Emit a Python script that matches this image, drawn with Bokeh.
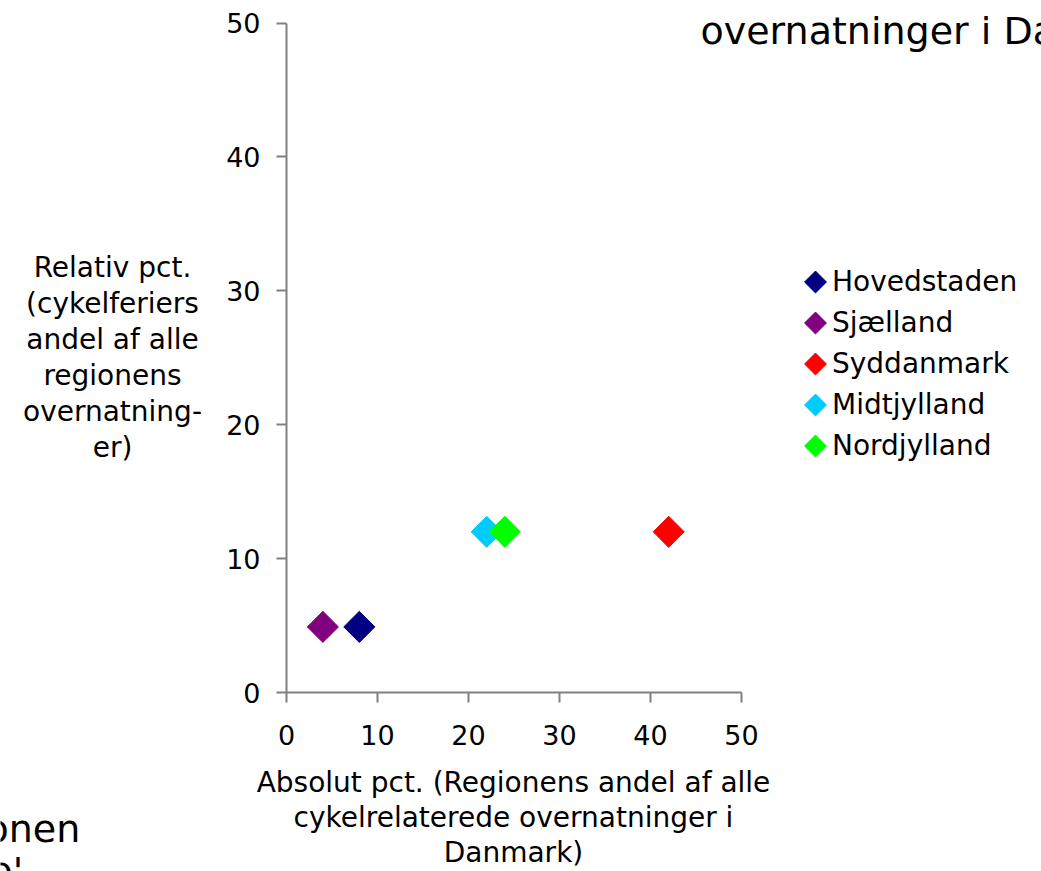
from bokeh.plotting import figure
from bokeh.models import Range1d, FixedTicker, Label, Legend, LegendItem, ColumnDataSource
from bokeh.embed import file_html
from bokeh.resources import INLINE
import math

# ---- data ----
regions = ["Hovedstaden", "Sjælland", "Syddanmark", "Midtjylland", "Nordjylland"]
absolut_pct = [8, 4, 42, 22, 24]
relativ_pct = [4.9, 4.9, 12, 12, 12]
colors = ["#000080", "#800080", "#FF0000", "#00CCFF", "#00FF00"]
ticks = [0, 10, 20, 30, 40, 50]

title_text = "overnatninger i Danmark"
x_label = "Absolut pct. (Regionens andel af alle\ncykelrelaterede overnatninger i\nDanmark)"
y_label = "Relativ pct.\n(cykelferiers\nandel af alle\nregionens\novernatning-\ner)"
fragment_1 = "onen"
fragment_2 = "o'"

FONT = "DejaVu Sans"
EM = 1.164  # DejaVu ascent + descent

# ---- geometry (canvas pixels) ----
W, H = 1041, 871
X0, X50 = 286, 741      # pixel of x=0 and x=50
Y0, Y50 = 692, 22.5     # pixel of y=0 and y=50
ux = (X50 - X0) / 50.0
uy = (Y0 - Y50) / 50.0


def dx(px):
    return (px - X0) / ux


def dy(py):
    return (Y0 - py) / uy


p = figure(width=W, height=H, output_backend="svg", toolbar_location=None,
           x_range=Range1d(dx(0), dx(W)), y_range=Range1d(dy(H), dy(0)),
           min_border_left=0, min_border_right=0, min_border_top=0, min_border_bottom=0)
p.outline_line_color = None
p.grid.visible = False
p.background_fill_color = "white"
p.border_fill_color = "white"

for ax in (p.xaxis[0], p.yaxis[0]):
    ax.fixed_location = 0
    ax.bounds = (0, 50)
    ax.ticker = FixedTicker(ticks=ticks)
    ax.axis_line_color = "#808080"
    ax.axis_line_width = 2
    ax.major_tick_line_color = "#808080"
    ax.major_tick_line_width = 2
    ax.major_tick_out = 10
    ax.major_tick_in = 0
    ax.minor_tick_line_color = None
    ax.major_label_text_font = FONT
    ax.major_label_text_font_size = "27px"
    ax.major_label_text_color = "black"
p.xaxis.major_label_standoff = 22
p.yaxis.major_label_standoff = 16

src = ColumnDataSource(data=dict(x=absolut_pct, y=relativ_pct, c=colors, name=regions))
pts = p.scatter(x="x", y="y", source=src, marker="square", angle=math.pi / 4, size=22,
                fill_color="c", line_color="c")

# ---- legend: text via Legend, diamond swatches drawn beside it ----
LEG_X_TEXT, LEG_Y_FIRST, LEG_PITCH, LEG_SWATCH_X = 832, 281.5, 41, 815
n = len(regions)
items = [LegendItem(label=name, renderers=[pts], index=i) for i, name in enumerate(regions)]
leg_top = LEG_Y_FIRST - LEG_PITCH / 2
leg_bottom = leg_top + LEG_PITCH * n
legend = Legend(items=items, location=(LEG_X_TEXT, H - leg_bottom), orientation="vertical",
                glyph_width=0, glyph_height=LEG_PITCH, spacing=0, label_standoff=0,
                padding=0, margin=0, border_line_color=None, background_fill_alpha=0,
                label_text_font=FONT, label_text_font_size="28px", label_text_color="black")
p.add_layout(legend, "center")

sw_src = ColumnDataSource(data=dict(
    x=[dx(LEG_SWATCH_X)] * n,
    y=[dy(LEG_Y_FIRST + LEG_PITCH * i) for i in range(n)],
    c=colors))
p.scatter(x="x", y="y", source=sw_src, marker="square", angle=math.pi / 4, size=15.5,
          fill_color="c", line_color="c")

# ---- texts ----
p.add_layout(Label(x=dx(112), y=dy(357), text=y_label, text_align="center", text_baseline="middle",
                   text_font=FONT, text_font_size="28px", text_line_height=35.6 / (EM * 28),
                   text_color="black"))
p.add_layout(Label(x=dx(513), y=dy(817), text=x_label, text_align="center", text_baseline="middle",
                   text_font=FONT, text_font_size="28px", text_line_height=35 / (EM * 28),
                   text_color="black"))


def big_text(t, left_px, baseline_px):
    size = 38
    mid = baseline_px - (0.928 - EM / 2) * size
    return Label(x=dx(left_px), y=dy(mid), text=t, text_align="left", text_baseline="middle",
                 text_font=FONT, text_font_size=f"{size}px", text_color="black")


p.add_layout(big_text(title_text, 700, 44))
p.add_layout(big_text(fragment_1, -15, 842))
p.add_layout(big_text(fragment_2, -11, 884))

open("out.html", "w").write(file_html(p, INLINE))
